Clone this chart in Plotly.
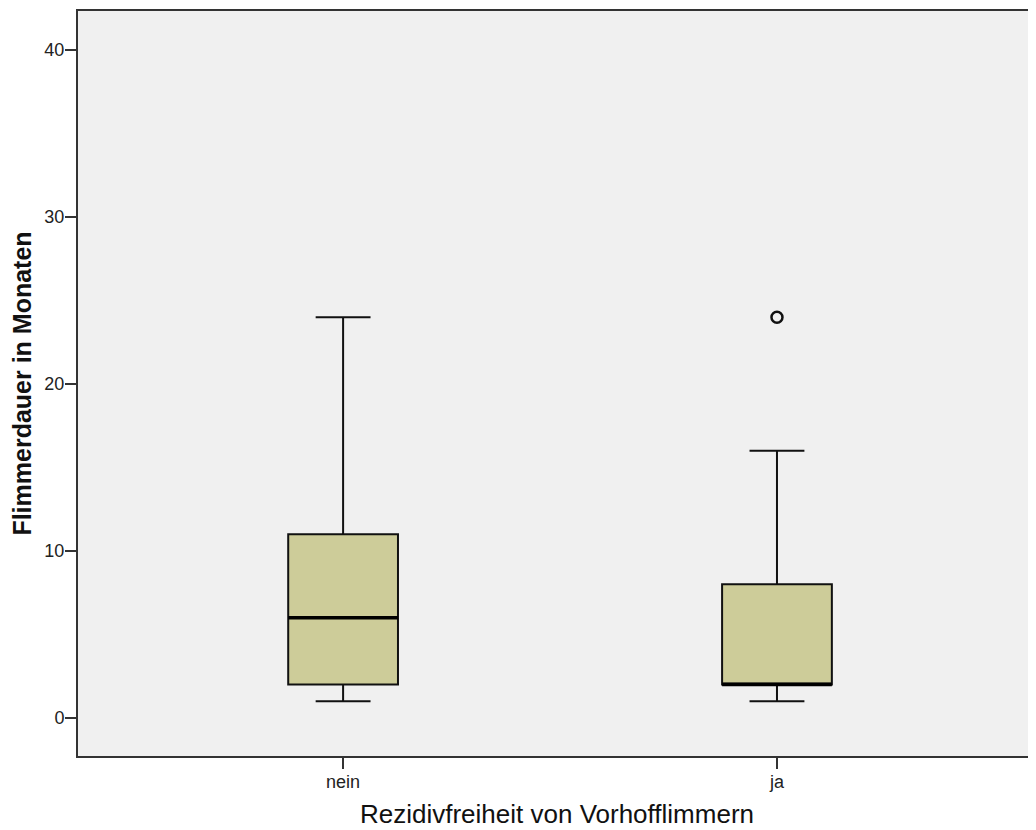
import plotly.graph_objects as go

categories = ["nein", "ja"]
q1 = [2, 2]
median = [6, 2]
q3 = [11, 8]
lower_whisker = [1, 1]
upper_whisker = [24, 16]
outlier_cat = [1]
outlier_val = [24]

box_width = 0.253
fill = "rgb(205,204,153)"

fig = go.Figure()
for i, name in enumerate(categories):
    fig.add_trace(go.Box(
        x=[i], q1=[q1[i]], median=[median[i]], q3=[q3[i]],
        lowerfence=[lower_whisker[i]], upperfence=[upper_whisker[i]],
        width=box_width, whiskerwidth=0.5,
        fillcolor=fill, line=dict(color="#111111", width=2),
        boxpoints=False, showlegend=False, hoverinfo="skip",
    ))
    # thicker median line
    fig.add_trace(go.Scatter(
        x=[i - box_width / 2, i + box_width / 2], y=[median[i], median[i]],
        mode="lines", line=dict(color="black", width=3.5),
        showlegend=False, hoverinfo="skip",
    ))

fig.add_trace(go.Scatter(
    x=outlier_cat, y=outlier_val, mode="markers",
    marker=dict(symbol="circle-open", size=11, color="#111111", line=dict(width=2.5)),
    showlegend=False, hoverinfo="skip",
))

fig.update_layout(
    width=1028, height=822,
    margin=dict(l=70, r=0, t=3, b=74),
    paper_bgcolor="white", plot_bgcolor="#F0F0F0",
    font=dict(family="Liberation Sans, Arial, sans-serif", color="#222222", size=18),
    xaxis=dict(
        range=[-0.611, 1.597], tickvals=list(range(len(categories))), ticktext=categories,
        showgrid=False, zeroline=False, showline=True, linecolor="#333333", linewidth=2,
        mirror=True, ticks="outside", ticklen=11, tickwidth=2, tickcolor="#333333",
        tickfont=dict(size=18), ticklabelstandoff=-3,
        title=dict(text="Rezidivfreiheit von Vorhofflimmern", font=dict(size=26, color="#111111"), standoff=14),
    ),
    yaxis=dict(
        range=[-2.28, 42.34], tickvals=[0, 10, 20, 30, 40],
        showgrid=False, zeroline=False, showline=True, linecolor="#333333", linewidth=2,
        ticks="outside", ticklen=11, tickwidth=2, tickcolor="#333333",
        tickfont=dict(size=18), ticklabelstandoff=-3,
        title=dict(text="<b>Flimmerdauer in Monaten</b>", font=dict(size=25, color="#111111"), standoff=11),
    ),
)

fig.write_html("out.html")
